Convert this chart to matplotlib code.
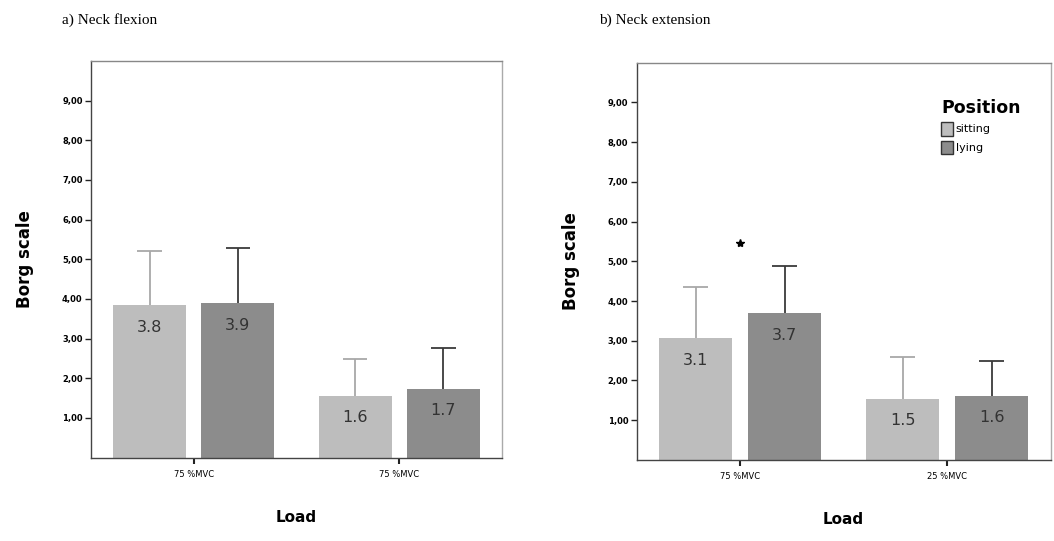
import numpy as np
import matplotlib
matplotlib.use('Agg')
import matplotlib.pyplot as plt
from matplotlib.patches import Patch

# data
positions = ['sitting', 'lying']
flex_loads = ['75 %MVC', '75 %MVC']
flex_mean = {'sitting': [3.84, 1.56], 'lying': [3.89, 1.73]}
flex_upper = {'sitting': [5.20, 2.49], 'lying': [5.29, 2.76]}
flex_labels = {'sitting': ['3.8', '1.6'], 'lying': ['3.9', '1.7']}

ext_loads = ['75 %MVC', '25 %MVC']
ext_mean = {'sitting': [3.06, 1.53], 'lying': [3.69, 1.61]}
ext_upper = {'sitting': [4.36, 2.58], 'lying': [4.89, 2.49]}
ext_labels = {'sitting': ['3.1', '1.5'], 'lying': ['3.7', '1.6']}
ext_star = (0, 5.47)

yticks = [1, 2, 3, 4, 5, 6, 7, 8, 9]

bar_col = {'sitting': '#bdbdbd', 'lying': '#8c8c8c'}
err_col = {'sitting': '#a8a8a8', 'lying': '#3a3a3a'}
offs = {'sitting': -0.215, 'lying': 0.215}
width = 0.355
cap = 0.06

fig = plt.figure(figsize=(10.54, 5.41), dpi=100)
ax1 = fig.add_axes([0.0863, 0.1543, 0.39, 0.733])
ax2 = fig.add_axes([0.604, 0.150, 0.3928, 0.734])


def panel(ax, loads, mean, upper, labels, title, tx):
    x = np.arange(len(loads))
    for p in positions:
        xs = x + offs[p]
        ax.bar(xs, mean[p], width=width, color=bar_col[p], edgecolor='none', zorder=2)
        # upper error bars only
        ax.vlines(xs, mean[p], upper[p], color=err_col[p], lw=1.3, zorder=1)
        ax.hlines(upper[p], xs - cap, xs + cap, color=err_col[p], lw=1.3, zorder=1)
        for xi, m, lab in zip(xs, mean[p], labels[p]):
            ax.text(xi, m - 0.55, lab, ha='center', va='center', fontsize=11.5,
                    color='#333333', zorder=3)
    ax.set_xlim(-0.5, 1.5)
    ax.set_ylim(0, 10)
    ax.set_yticks(yticks)
    ax.set_yticklabels(['%d,00' % v for v in yticks], fontsize=6, fontweight='bold')
    ax.set_xticks(x)
    ax.set_xticklabels(loads, fontsize=6)
    ax.tick_params(axis='y', direction='out', length=4, width=1, color='#222222', pad=2)
    ax.tick_params(axis='x', direction='out', length=4, width=1.5, color='#222222', pad=5)
    for s in ax.spines.values():
        s.set_color('#444444')
        s.set_linewidth(1)
    ax.spines['top'].set_color('#888888')
    ax.spines['right'].set_color('#aaaaaa')
    ax.set_ylabel('Borg scale', fontsize=12, fontweight='bold', labelpad=20)
    ax.set_xlabel('Load', fontsize=11, fontweight='bold', labelpad=22)
    fig.text(tx, 0.963, title, fontsize=11, family='Liberation Serif',
             ha='left', va='center')


panel(ax1, flex_loads, flex_mean, flex_upper, flex_labels, 'a) Neck flexion', 0.059)
panel(ax2, ext_loads, ext_mean, ext_upper, ext_labels, 'b) Neck extension', 0.568)

ax2.plot(*ext_star, marker='*', color='black', markersize=6, zorder=4)

handles = [Patch(facecolor=bar_col[p], edgecolor='#333333', label=p) for p in positions]
leg = ax2.legend(handles=handles, title='Position', loc='upper left',
                 bbox_to_anchor=(0.725, 0.92), frameon=False, fontsize=8,
                 handlelength=1.1, handleheight=1.5, handletextpad=0.2,
                 labelspacing=0.45, borderaxespad=0)
leg.get_title().set_fontweight('bold')
leg.get_title().set_fontsize(12.5)
leg._legend_box.align = 'left'

fig.savefig('out.png', dpi=100)
